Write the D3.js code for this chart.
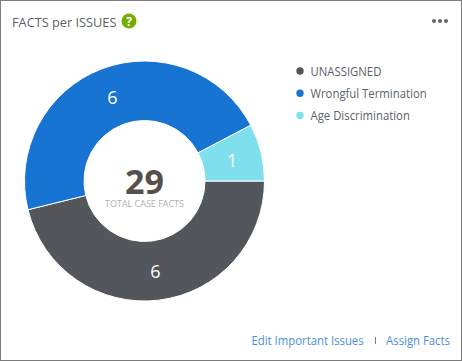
<!DOCTYPE html>
<html>
<head>
<meta charset="utf-8">
<script src="https://d3js.org/d3.v7.min.js"></script>
<style>
    html, body { margin: 0; padding: 0; background: #fff; }
    svg { display: block; font-family: "Open Sans", "Noto Sans", sans-serif; }
</style>
</head>
<body>
<svg id="chart" width="462" height="362"></svg>
<script>
const categories = ['UNASSIGNED', 'Wrongful Termination', 'Age Discrimination'];
const values = [6, 6, 1];
const colors = ['#53565a', '#1874d2', '#80dfec'];
const totalValue = 29;
const totalLabel = 'TOTAL CASE FACTS';
const title = 'FACTS per ISSUES';
const links = ['Edit Important Issues', 'Assign Facts'];

const width = 462;
const height = 362;
const svg = d3.select('#chart');

// Open Sans runs a bit wider than the original font, squeeze it
function condense(selection) {
    selection.each(function () {
        const w = this.getComputedTextLength();
        d3.select(this)
            .attr('textLength', w * 0.945)
            .attr('lengthAdjust', 'spacingAndGlyphs');
    });
}

// Card border
svg.append('rect')
    .attr('x', 0.5).attr('y', 0.5)
    .attr('width', width - 1).attr('height', height - 2)
    .attr('fill', '#fff')
    .attr('stroke', '#7f7f7f')
    .attr('stroke-width', 1);

// Title and help badge
svg.append('text')
    .attr('x', 12).attr('y', 27)
    .attr('font-size', 13.5)
    .attr('fill', '#5a5f69')
    .text(title)
    .call(condense);

svg.append('circle')
    .attr('cx', 129).attr('cy', 21).attr('r', 7.5)
    .attr('fill', '#74ad06');
svg.append('text')
    .attr('x', 129).attr('y', 25.5)
    .attr('text-anchor', 'middle')
    .attr('font-size', 12).attr('font-weight', 700)
    .attr('fill', '#fff')
    .text('?');

// Menu dots
svg.append('g')
    .selectAll('circle')
    .data([-1, 0, 1])
    .join('circle')
    .attr('cx', d => 440 + d * 6)
    .attr('cy', 21)
    .attr('r', 2)
    .attr('fill', '#5f6368');

// Donut
const pie = d3.pie()
    .sort(null)
    .startAngle(Math.PI / 2)
    .endAngle(Math.PI / 2 + 2 * Math.PI);
const arc = d3.arc().innerRadius(60.5).outerRadius(120);
const donut = svg.append('g').attr('transform', 'translate(144.5,181)');
const arcs = pie(values);

donut.selectAll('path')
    .data(arcs)
    .join('path')
    .attr('d', arc)
    .attr('fill', (d, i) => colors[i])
    .attr('stroke', '#fff')
    .attr('stroke-width', 1);

donut.selectAll('text.slice')
    .data(arcs)
    .join('text')
    .attr('class', 'slice')
    .attr('transform', d => {
        const c = arc.centroid(d);
        return `translate(${c[0]},${c[1] + 1})`;
    })
    .attr('dy', '0.35em')
    .attr('text-anchor', 'middle')
    .attr('font-size', 18)
    .attr('fill', '#fff')
    .text(d => d.value);

// Center text
donut.append('text')
    .attr('y', 12.5)
    .attr('text-anchor', 'middle')
    .attr('font-size', 34).attr('font-weight', 700)
    .attr('fill', '#574f4a')
    .text(totalValue);
donut.append('text')
    .attr('y', 26)
    .attr('text-anchor', 'middle')
    .attr('font-size', 9.5)
    .attr('fill', '#b0b0b4')
    .text(totalLabel)
    .call(condense);

// Legend
const legendY = d3.scalePoint().domain(categories).range([71, 115.5]);
const legend = svg.append('g')
    .selectAll('g')
    .data(categories)
    .join('g')
    .attr('transform', d => `translate(300,${legendY(d)})`);
legend.append('circle')
    .attr('r', 3.7)
    .attr('fill', (d, i) => colors[i]);
legend.append('text')
    .attr('x', 10.5).attr('y', 4.5)
    .attr('font-size', 12)
    .attr('fill', '#5a5f69')
    .text(d => d)
    .call(condense);

// Footer links
svg.append('text')
    .attr('x', 251.5).attr('y', 345)
    .attr('font-size', 12)
    .attr('fill', '#4a90e2')
    .text(links[0])
    .call(condense);
svg.append('line')
    .attr('x1', 375.5).attr('x2', 375.5)
    .attr('y1', 337).attr('y2', 344)
    .attr('stroke', '#5a7fa8');
svg.append('text')
    .attr('x', 450).attr('y', 345)
    .attr('text-anchor', 'end')
    .attr('font-size', 12)
    .attr('fill', '#4a90e2')
    .text(links[1])
    .call(condense);
</script>
</body>
</html>
